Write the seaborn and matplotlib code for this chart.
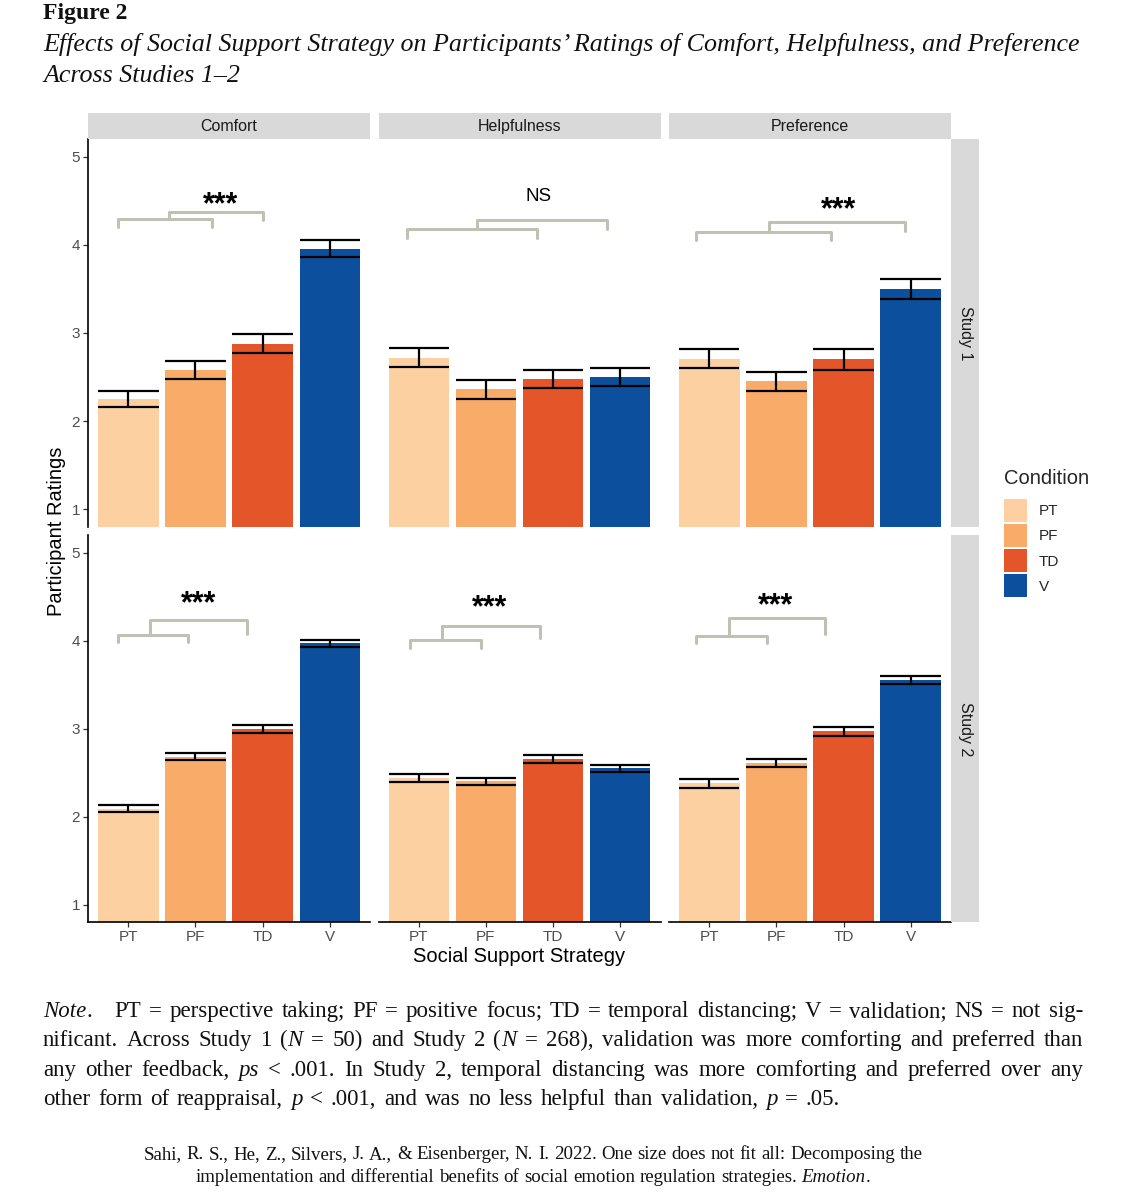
"""Bar chart of social support ratings by strategy, faceted by measure and study."""

import matplotlib

matplotlib.use("Agg")
import matplotlib.pyplot as plt
import numpy as np
import pandas as pd
import seaborn as sns
from matplotlib.patches import Patch
from matplotlib.transforms import IdentityTransform

W, H = 1125, 1200

CONDITIONS = ["PT", "PF", "TD", "V"]
MEASURES = ["Comfort", "Helpfulness", "Preference"]
STUDIES = ["Study 1", "Study 2"]
PALETTE = ["#FDD0A2", "#F9AB6A", "#E5552A", "#0C4F9C"]

# means and standard errors
s1_comfort = [2.25, 2.58, 2.88, 3.96]
s1_comfort_se = [0.095, 0.10, 0.105, 0.10]
s1_helpful = [2.72, 2.36, 2.48, 2.50]
s1_helpful_se = [0.105, 0.105, 0.105, 0.105]
s1_prefer = [2.71, 2.45, 2.70, 3.50]
s1_prefer_se = [0.105, 0.105, 0.115, 0.11]

s2_comfort = [2.09, 2.68, 3.00, 3.97]
s2_comfort_se = [0.04, 0.04, 0.045, 0.04]
s2_helpful = [2.44, 2.40, 2.66, 2.55]
s2_helpful_se = [0.042, 0.045, 0.045, 0.04]
s2_prefer = [2.38, 2.61, 2.97, 3.55]
s2_prefer_se = [0.05, 0.045, 0.05, 0.045]

# significance labels, one per panel (rows = studies, cols = measures)
sig_labels = [["***", "NS", "***"], ["***", "***", "***"]]
# bracket geometry in data units: (lower x0, x1, y, leg), (upper x0, x1, y, right leg), (label x, y)
sig_lower = [[(-0.16, 1.24, 4.29, 4.20), (-0.17, 1.76, 4.18, 4.08), (-0.20, 1.81, 4.15, 4.06)],
             [(-0.16, 0.89, 4.06, 3.98), (-0.13, 0.93, 4.01, 3.92), (-0.20, 0.86, 4.05, 3.97)]]
sig_upper = [[(0.60, 2.00, 4.38, 4.28), (0.87, 2.81, 4.28, 4.18), (0.89, 2.91, 4.26, 4.16)],
             [(0.33, 1.77, 4.24, 4.08), (0.35, 1.80, 4.17, 4.03), (0.29, 1.73, 4.26, 4.08)]]
sig_text_pos = [[(1.37, 4.50), (1.78, 4.55), (1.93, 4.44)],
                [(1.04, 4.46), (1.06, 4.42), (0.99, 4.44)]]

NOTE_LINES = [
    "*Note*. PT = perspective taking; PF = positive focus; TD = temporal distancing; V = validation; NS = not sig-",
    "nificant. Across Study 1 (*N* = 50) and Study 2 (*N* = 268), validation was more comforting and preferred than",
    "any other feedback, *ps* < .001. In Study 2, temporal distancing was more comforting and preferred over any",
    "other form of reappraisal, *p* < .001, and was no less helpful than validation, *p* = .05.",
]
CITATION_LINES = [
    "Sahi, R. S., He, Z., Silvers, J. A., & Eisenberger, N. I. 2022. One size does not fit all: Decomposing the",
    "implementation and differential benefits of social emotion regulation strategies. *Emotion*.",
]


def px_rect(x, y_top, w, h):
    return [x / W, 1 - (y_top + h) / H, w / W, h / H]


def parse_word(word):
    parts = word.split("*")
    return [(p, i % 2 == 1) for i, p in enumerate(parts) if p]


def set_words(fig, renderer, line, x0, y, size, x1=None, center=None, first_gap=1.0):
    words = [parse_word(w) for w in line.split(" ")]
    kw = dict(fontsize=size, family="Liberation Serif", color="#111111",
              transform=IdentityTransform(), va="baseline")
    probe = fig.text(0, 0, "x x", **kw)
    probe2 = fig.text(0, 0, "xx", **kw)
    space = probe.get_window_extent(renderer).width - probe2.get_window_extent(renderer).width
    probe.remove()
    probe2.remove()

    placed = []
    widths = []
    for pieces in words:
        arts, ws = [], []
        for txt, ital in pieces:
            t = fig.text(0, H - y, txt, style="italic" if ital else "normal", **kw)
            ws.append(t.get_window_extent(renderer).width)
            arts.append((t, ws[-1]))
        placed.append(arts)
        widths.append(sum(ws))

    weights = [1.0] * (len(words) - 1)
    if weights:
        weights[0] = first_gap
    total = sum(widths)
    if x1 is not None:
        unit = (x1 - x0 - total) / sum(weights)
    else:
        unit = space
        if center is not None:
            x0 = center - (total + unit * sum(weights)) / 2
    x = x0
    for i, arts in enumerate(placed):
        for t, w in arts:
            t.set_x(x)
            x += w
        if i < len(weights):
            x += unit * weights[i]


def main():
    sns.set_theme(style="white")
    plt.rcParams["font.family"] = ["Liberation Sans", "DejaVu Sans"]

    rows = []
    table = [
        ("Study 1", "Comfort", s1_comfort, s1_comfort_se),
        ("Study 1", "Helpfulness", s1_helpful, s1_helpful_se),
        ("Study 1", "Preference", s1_prefer, s1_prefer_se),
        ("Study 2", "Comfort", s2_comfort, s2_comfort_se),
        ("Study 2", "Helpfulness", s2_helpful, s2_helpful_se),
        ("Study 2", "Preference", s2_prefer, s2_prefer_se),
    ]
    for study, measure, means, ses in table:
        for cond, m, s in zip(CONDITIONS, means, ses):
            rows.append({"study": study, "measure": measure, "condition": cond, "mean": m, "se": s})
    df = pd.DataFrame(rows)
    palette = dict(zip(CONDITIONS, PALETTE))

    fig = plt.figure(figsize=(W / 100, H / 100), dpi=100)

    col_left = [88, 378.5, 669]
    row_top = [139.4, 535.1]
    pw, ph = 282, 387.2
    xs = np.arange(len(CONDITIONS))

    for r, study in enumerate(STUDIES):
        for c, measure in enumerate(MEASURES):
            ax = fig.add_axes(px_rect(col_left[c], row_top[r], pw, ph))
            sub = df[(df["study"] == study) & (df["measure"] == measure)]
            sns.barplot(data=sub, x="condition", y="mean", hue="condition", order=CONDITIONS,
                        hue_order=CONDITIONS, palette=palette, width=0.9, saturation=1,
                        errorbar=None, legend=False, linewidth=0, ax=ax)
            m = sub["mean"].to_numpy()
            s = sub["se"].to_numpy()
            ax.hlines(m + s, xs - 0.45, xs + 0.45, color="black", lw=1.6)
            ax.hlines(m - s, xs - 0.45, xs + 0.45, color="black", lw=1.6)
            ax.vlines(xs, m - s, m + s, color="black", lw=1.6)

            bc = "#BEC1B4"
            lx0, lx1, ly, lleg = sig_lower[r][c]
            ux0, ux1, uy, uleg = sig_upper[r][c]
            ax.plot([lx0, lx0, lx1, lx1], [lleg, ly, ly, lleg], color=bc, lw=2.2)
            ax.plot([ux0, ux0, ux1, ux1], [ly, uy, uy, uleg], color=bc, lw=2.2)
            tx, ty = sig_text_pos[r][c]
            lab = sig_labels[r][c]
            if lab == "NS":
                ax.text(tx, ty, lab, ha="center", va="center", fontsize=13.5, color="black")
            else:
                ax.text(tx, ty - 0.05, lab, ha="center", va="center", fontsize=22,
                        fontweight="bold", color="black")

            ax.set_xlim(-0.6, 3.6)
            ax.set_ylim(0.8, 5.2)
            ax.set_xlabel("")
            ax.set_ylabel("")
            ax.set_facecolor("white")
            for side in ["top", "right", "left", "bottom"]:
                ax.spines[side].set_visible(False)
            ax.tick_params(colors="#333333", labelcolor="#4D4D4D", labelsize=11,
                           length=3.8, width=0.9, pad=2)
            ax.set_yticks([1, 2, 3, 4, 5])
            if c == 0:
                ax.spines["left"].set_visible(True)
                ax.spines["left"].set_color("black")
                ax.spines["left"].set_linewidth(1.2)
                ax.tick_params(axis="y", left=True)
            else:
                ax.tick_params(axis="y", left=False, labelleft=False)
            if r == 1:
                ax.spines["bottom"].set_visible(True)
                ax.spines["bottom"].set_color("black")
                ax.spines["bottom"].set_linewidth(1.2)
                ax.tick_params(axis="x", bottom=True)
            else:
                ax.tick_params(axis="x", bottom=False, labelbottom=False)

            if r == 0:
                sax = fig.add_axes(px_rect(col_left[c], 113, pw, row_top[0] - 113))
                sax.set_facecolor("#D9D9D9")
                sax.set_xticks([])
                sax.set_yticks([])
                for sp in sax.spines.values():
                    sp.set_visible(False)
                sax.text(0.5, 0.5, measure, ha="center", va="center", fontsize=11.5,
                         color="#1A1A1A", transform=sax.transAxes)

        rax = fig.add_axes(px_rect(951, row_top[r], 28, ph))
        rax.set_facecolor("#D9D9D9")
        rax.set_xticks([])
        rax.set_yticks([])
        for sp in rax.spines.values():
            sp.set_visible(False)
        rax.text(0.5, 0.5, study, ha="center", va="center", rotation=-90, fontsize=11.5,
                 color="#1A1A1A", transform=rax.transAxes)

    fig.text(57 / W, 1 - 531 / H, "Participant Ratings", rotation=90, ha="center", va="center",
             fontsize=14.5, color="black")
    fig.text(519 / W, 1 - 956 / H, "Social Support Strategy", ha="center", va="center",
             fontsize=14.5, color="black")

    handles = [Patch(facecolor=col, edgecolor="none", label=lab) for lab, col in zip(CONDITIONS, PALETTE)]
    leg = fig.legend(handles=handles, title="Condition", loc="upper left",
                     bbox_to_anchor=(998 / W, 1 - 463 / H), frameon=False, fontsize=11,
                     title_fontsize=14.5, handlelength=1.5, handleheight=1.94,
                     labelspacing=0.15, handletextpad=0.75, borderaxespad=0)
    leg._legend_box.align = "left"
    leg._legend_box.sep = 7.5

    # header
    fig.text(43 / W, 1 - 13 / H, "Figure 2", ha="left", va="center", fontsize=17,
             fontweight="bold", family="Liberation Serif", color="#111111")
    fig.text(43 / W, 1 - 44 / H,
             "Effects of Social Support Strategy on Participants’ Ratings of Comfort, Helpfulness, and Preference",
             ha="left", va="center", fontsize=18.7, style="italic", family="Liberation Serif",
             color="#111111")
    fig.text(43 / W, 1 - 76 / H, "Across Studies 1–2", ha="left", va="center", fontsize=18.7,
             style="italic", family="Liberation Serif", color="#111111")

    renderer = fig.canvas.get_renderer()
    baselines = [1017, 1046, 1076, 1105]
    line_ends = [1083, 1083, 1083, 840]
    for i, line in enumerate(NOTE_LINES):
        set_words(fig, renderer, line, 43, baselines[i], 16.5, x1=line_ends[i],
                  first_gap=3.0 if i == 0 else 1.0)
    for i, line in enumerate(CITATION_LINES):
        set_words(fig, renderer, line, 0, [1159, 1182][i], 13.6, center=533)

    fig.savefig("out.png", dpi=100)
    plt.close(fig)


if __name__ == "__main__":
    main()
